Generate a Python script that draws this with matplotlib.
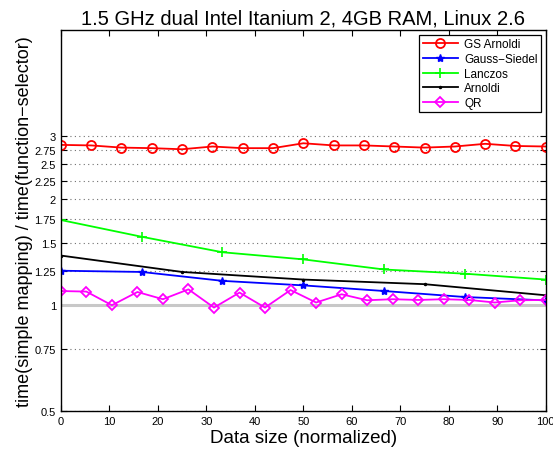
import numpy as np
import matplotlib.pyplot as plt
from matplotlib.ticker import FixedLocator, FixedFormatter, NullLocator

plt.rcParams['font.family'] = ['Liberation Sans', 'DejaVu Sans']

# normalized data sizes for each solver
x_gs_arnoldi = np.linspace(0, 100, 17)
x_gauss_seidel = np.linspace(0, 100, 7)
x_lanczos = np.linspace(0, 100, 7)
x_arnoldi = np.linspace(0, 100, 5)
x_qr = np.linspace(0, 100, 20)

gs_arnoldi = [2.84, 2.83, 2.79, 2.78, 2.76, 2.81, 2.78, 2.78, 2.87,
              2.83, 2.83, 2.81, 2.79, 2.81, 2.86, 2.82, 2.81]
gauss_seidel = [1.25, 1.24, 1.17, 1.136, 1.095, 1.053, 1.03]
lanczos = [1.74, 1.56, 1.41, 1.346, 1.26, 1.226, 1.18]
arnoldi = [1.38, 1.24, 1.18, 1.145, 1.065]
qr = [1.095, 1.091, 0.998, 1.088, 1.038, 1.107, 0.983, 1.084, 0.983, 1.102,
      1.016, 1.072, 1.031, 1.038, 1.033, 1.038, 1.033, 1.016, 1.031, 1.033]

yticks = [0.5, 0.75, 1, 1.25, 1.5, 1.75, 2, 2.25, 2.5, 2.75, 3]
ytick_labels = ['0.5', '0.75', '1', '1.25', '1.5', '1.75', '2', '2.25', '2.5', '2.75', '3']

fig = plt.figure(figsize=(5.53, 4.52), dpi=100)
ax = fig.add_axes([0.110, 0.088, 0.877, 0.843])
ax.set_axisbelow(True)

ax.plot([0, 100], [1, 1], color='#c8c8c8', lw=2.2, zorder=1)

ax.plot(x_gs_arnoldi, gs_arnoldi, color='red', lw=1.3, marker='o', ms=6.5,
        mfc='none', mew=1.3, label='GS Arnoldi')
ax.plot(x_gauss_seidel, gauss_seidel, color='blue', lw=1.3, marker='*', ms=6,
        mew=1.0, label='Gauss\u2212Siedel')
ax.plot(x_lanczos, lanczos, color='#00ff00', lw=1.3, marker='+', ms=7,
        mew=1.2, label='Lanczos')
ax.plot(x_arnoldi, arnoldi, color='black', lw=1.3, marker='.', ms=3,
        label='Arnoldi')
ax.plot(x_qr, qr, color='magenta', lw=1.3, marker='D', ms=5.5, mfc='none',
        mew=1.3, label='QR')

ax.set_yscale('log')
ax.set_ylim(0.5, 6)
ax.set_xlim(0, 100)
ax.yaxis.set_major_locator(FixedLocator(yticks))
ax.yaxis.set_major_formatter(FixedFormatter(ytick_labels))
ax.yaxis.set_minor_locator(NullLocator())
ax.set_xticks(np.arange(0, 101, 10))
ax.tick_params(direction='in', top=True, right=True, labelsize=8, length=4)
ax.grid(axis='y', linestyle=(0, (1, 3)), color='#707070', lw=0.8)

for s in ax.spines.values():
    s.set_linewidth(1.0)

ax.set_title('1.5 GHz dual Intel Itanium 2, 4GB RAM, Linux 2.6', fontsize=14.5, pad=5)
ax.set_xlabel('Data size (normalized)', fontsize=13.5, labelpad=2)
ax.set_ylabel('time(simple mapping) / time(function\u2212selector)', fontsize=13, labelpad=1)

leg = ax.legend(loc='upper right', fontsize=8.5, frameon=True, fancybox=False,
                edgecolor='black', framealpha=1, borderaxespad=0.4,
                handlelength=3, labelspacing=0.22, borderpad=0.3,
                handletextpad=0.5)
leg.get_frame().set_linewidth(0.9)

fig.savefig('out.png', dpi=100)
